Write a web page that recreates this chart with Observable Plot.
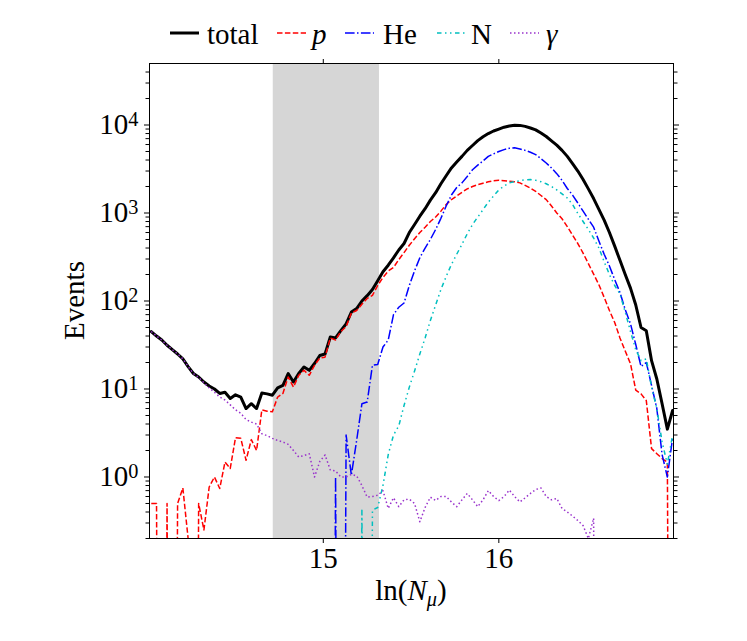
<!DOCTYPE html>
<html><head><meta charset="utf-8">
<script src="https://cdn.jsdelivr.net/npm/d3@7"></script>
<script src="https://cdn.jsdelivr.net/npm/@observablehq/plot@0.6"></script>
<style>
body{margin:0;background:#fff;}
#wrap{position:relative;width:747px;height:641px;font-family:"Liberation Serif","Times New Roman",Times,"DejaVu Serif",serif;background:#fff;}
#legend{position:absolute;left:0;top:0;width:747px;height:52px;}
.sw{position:absolute;top:28px;}
.lb{position:absolute;top:17px;font-size:29px;line-height:34px;color:#000;white-space:nowrap;}
#chart{position:absolute;left:0;top:52px;}
</style></head><body>
<div id="wrap"><div id="legend"></div><div id="chart"></div></div>
<script>
// bin centres of ln(N_mu)
const lnN = [14.02,14.05,14.08,14.11,14.14,14.17,14.20,14.23,14.26,14.29,
 14.32,14.35,14.38,14.41,14.44,14.47,14.50,14.53,14.56,14.59,
 14.62,14.65,14.68,14.71,14.74,14.77,14.80,14.83,14.86,14.89,
 14.92,14.95,14.98,15.01,15.04,15.07,15.10,15.13,15.16,15.19,
 15.22,15.25,15.28,15.31,15.34,15.37,15.40,15.43,15.46,15.49,
 15.52,15.55,15.58,15.61,15.64,15.67,15.70,15.73,15.76,15.79,
 15.82,15.85,15.88,15.91,15.94,15.97,16.00,16.03,16.06,16.09,
 16.12,16.15,16.18,16.21,16.24,16.27,16.30,16.33,16.36,16.39,
 16.42,16.45,16.48,16.51,16.54,16.57,16.60,16.63,16.66,16.69,
 16.72,16.75,16.78,16.81,16.84,16.87,16.90,16.93,16.96,16.99];

const total = [45,40,36,31.4,28,25,22,18,15,13.7,
 12,10.8,10,8.9,9.2,7.8,8.6,8.1,6.0,6.8,
 6.0,9.0,8.8,8.5,10.3,11,15,12,15,17.8,
 16.3,19.5,24,25,39,38,46,55,75,82,
 100,115,135,170,215,255,310,380,450,600,
 740,920,1120,1400,1700,2150,2650,3250,3800,4400,
 5150,5850,6650,7350,8000,8550,9000,9450,9750,9950,
 9900,9650,9250,8800,8100,7400,6600,5900,5150,4400,
 3650,3000,2400,1880,1460,1100,830,600,420,290,
 200,140,90,50,46,21,13,6.8,3.5,5.7];

const proton = [0.5,0.5,0,0.5,0,0.5,0.75,0.2,0,0.5,
 0.25,0.77,1.0,0.74,1.48,1.25,2.8,2.75,1.55,2.66,
 2.0,5.8,5.6,5.5,8.1,8.9,13.7,10.5,14.3,16.3,
 14.3,18.6,22.5,23,38,36,45,51,73,78,
 92,107,116,150,185,219,240,295,355,430,
 510,600,690,800,900,1050,1250,1420,1560,1720,
 1880,2000,2100,2180,2260,2330,2350,2330,2300,2260,
 2200,2060,1920,1760,1580,1420,1200,1000,860,700,
 560,450,350,266,202,153,110,78,57,38,
 27,19.4,9.7,8.8,7.4,2.1,1.84,1.62,1.48,0];

const helium = [0,0,0,0,0,0,0,0,0,0,
 0,0,0,0,0,0,0,0,0,0,
 0,0,0,0,0,0,0,0,0,0,
 0,0,0,0,0,1.0,0,3.0,1.05,2.6,
 6.8,7.1,18.6,19,30,36,70,85,95,150,
 220,310,400,500,650,870,1200,1600,1950,2200,
 2600,3100,3500,3900,4400,4700,5000,5250,5450,5500,
 5350,5150,4900,4600,4150,3700,3250,2800,2350,1900,
 1600,1300,1050,850,690,480,340,250,175,125,
 80,55,32,18,20,11,6,1.8,1.0,2.8];

const nitrogen = [0,0,0,0,0,0,0,0,0,0,
 0,0,0,0,0,0,0,0,0,0,
 0,0,0,0,0,0,0,0,0,0,
 0,0,0,0,0,0,0,0,0,0,
 0.42,0,0.42,0.45,0.8,1.8,3.0,3.8,6.5,10.5,
 16,25,38,60,90,135,190,260,340,440,
 580,740,900,1090,1330,1560,1830,2030,2200,2270,
 2330,2380,2400,2350,2270,2150,2000,1830,1650,1480,
 1250,990,800,650,520,400,280,200,150,120,
 75,45,28,21,22,10.5,6,2.5,1.4,3];

const gamma = [45,40,36,31.4,28,25,22,18,15,13.5,
 11.8,10.3,9.2,8.1,7.5,6.6,5.8,5.3,4.5,4.2,
 4.0,3.1,2.95,2.75,2.6,2.5,2.35,2.0,1.69,1.75,
 1.84,1.0,1.5,1.78,1.2,1.17,1.0,1.0,1.07,1.03,
 0.8,0.59,0.6,0.62,0.7,0.44,0.58,0.46,0.55,0.56,
 0.5,0.31,0.45,0.59,0.54,0.6,0.6,0.52,0.46,0.55,
 0.65,0.55,0.46,0.55,0.7,0.6,0.54,0.6,0.71,0.6,
 0.52,0.58,0.65,0.72,0.75,0.6,0.55,0.57,0.44,0.4,
 0.36,0.32,0.28,0.2,0.34,0,0,0,0,0,
 0,0,0,0,0,0,0,0,0,0];

const seriesNames = ["total", "p", "He", "N", "γ"];
const seriesValues = [total, proton, helium, nitrogen, gamma];
const seriesColors = ["#000000", "#ff0000", "#0000ff", "#00bfbf", "#9932cc"];
const seriesDash = [null, "5.5,2.4", "9.6,2.4,1.5,2.4", "4.5,3.5,1.5,3.5,1.5,3.5", "1.5,2.5"];
const seriesWidth = [3, 1.5, 1.5, 1.5, 1.5];
const seriesItalic = [false, true, false, false, true];

const shadedBand = [14.715, 15.32];
const xTicks = [15, 16];
const yMajor = [1, 10, 100, 1000, 10000];
const yMinor = [0.2,0.3,0.4,0.5,0.6,0.7,0.8,0.9,
 2,3,4,5,6,7,8,9,
 20,30,40,50,60,70,80,90,
 200,300,400,500,600,700,800,900,
 2000,3000,4000,5000,6000,7000,8000,9000,
 20000,30000,40000];

const FONT = '"Liberation Serif", "Times New Roman", Times, "DejaVu Serif", serif';
const FLOOR = 1e-12; // empty bins drop off the log axis, as in the original
const rowsOf = arr => lnN.map((x, i) => ({x, y: arr[i] > 0 ? arr[i] : FLOOR}));

const lineMarks = seriesValues.map((arr, k) => Plot.line(rowsOf(arr), {
  x: "x", y: "y", stroke: seriesColors[k], strokeWidth: seriesWidth[k],
  strokeDasharray: seriesDash[k] || undefined, strokeLinejoin: "round",
  strokeLinecap: seriesDash[k] ? "butt" : "round", clip: true
}));

const blank = () => "";
const plot = Plot.plot({
  width: 747, height: 589,
  marginTop: 11, marginBottom: 103, marginLeft: 149, marginRight: 74,
  style: {fontFamily: FONT, fontSize: "29px", background: "white", color: "black", overflow: "visible"},
  x: {domain: [14.01, 16.995]},
  y: {type: "log", domain: [0.2, 50000]},
  marks: [
    Plot.rect([{x1: shadedBand[0], x2: shadedBand[1]}], {x1: "x1", x2: "x2", fill: "#d6d6d6"}),
    ...lineMarks,
    Plot.frame({stroke: "black", strokeWidth: 1}),
    Plot.axisX({ticks: xTicks, tickSize: 5, tickPadding: 4, label: null, tickFormat: d => String(d)}),
    Plot.axisX({anchor: "top", ticks: xTicks, tickSize: 5, label: null, tickFormat: blank}),
    Plot.axisY({ticks: yMajor, tickSize: 5, tickPadding: 6, label: null, tickFormat: d => String(Math.round(Math.log10(d)))}),
    Plot.axisY({ticks: yMinor, tickSize: 3.5, label: null, tickFormat: blank}),
    Plot.axisY({anchor: "right", ticks: yMajor, tickSize: 5, label: null, tickFormat: blank}),
    Plot.axisY({anchor: "right", ticks: yMinor, tickSize: 3.5, label: null, tickFormat: blank})
  ]
});

const NS = "http://www.w3.org/2000/svg";
// powers of ten as 10^n
plot.querySelectorAll('g[aria-label="y-axis tick label"] text').forEach(t => {
  const e = t.textContent;
  if (!e) return;
  t.textContent = "";
  const a = document.createElementNS(NS, "tspan"); a.textContent = "10";
  const b = document.createElementNS(NS, "tspan"); b.textContent = e;
  b.setAttribute("dy", "-8.5"); b.setAttribute("font-size", "20.3");
  t.append(a, b);
});

// axis titles
const xl = document.createElementNS(NS, "text");
xl.setAttribute("x", 411); xl.setAttribute("y", 548);
xl.setAttribute("text-anchor", "middle"); xl.setAttribute("font-size", "29");
xl.setAttribute("fill", "black");
const parts = [["ln(", null, null], ["N", "italic", null], ["μ", "italic", "sub"], [")", null, "back"]];
parts.forEach(([s, st, pos]) => {
  const ts = document.createElementNS(NS, "tspan");
  ts.textContent = s;
  if (st) ts.setAttribute("font-style", st);
  if (pos === "sub") { ts.setAttribute("font-size", "20.3"); ts.setAttribute("dy", "6"); }
  if (pos === "back") ts.setAttribute("dy", "-6");
  xl.appendChild(ts);
});
plot.appendChild(xl);

const yl = document.createElementNS(NS, "text");
yl.setAttribute("transform", "translate(74,248.5) rotate(-90)");
yl.setAttribute("text-anchor", "middle"); yl.setAttribute("dy", "0.35em");
yl.setAttribute("font-size", "29"); yl.setAttribute("fill", "black");
yl.textContent = "Events";
plot.appendChild(yl);

document.getElementById("chart").appendChild(plot);

// legend
const legend = document.getElementById("legend");
const swatchLeft = [170, 277, 345, 437, 510];
const labelLeft = [207, 312, 383, 471, 546];
seriesNames.forEach((name, k) => {
  const sw = document.createElementNS(NS, "svg");
  sw.setAttribute("class", "sw"); sw.setAttribute("width", 29); sw.setAttribute("height", 10);
  sw.style.left = swatchLeft[k] + "px";
  const ln = document.createElementNS(NS, "line");
  ln.setAttribute("x1", 0); ln.setAttribute("x2", 29); ln.setAttribute("y1", 5); ln.setAttribute("y2", 5);
  ln.setAttribute("stroke", seriesColors[k]); ln.setAttribute("stroke-width", seriesWidth[k]);
  if (seriesDash[k]) ln.setAttribute("stroke-dasharray", seriesDash[k]);
  sw.appendChild(ln);
  legend.appendChild(sw);
  const lb = document.createElement("div");
  lb.className = "lb"; lb.style.left = labelLeft[k] + "px";
  if (seriesItalic[k]) lb.style.fontStyle = "italic";
  lb.textContent = name;
  legend.appendChild(lb);
});
</script>
</body></html>
